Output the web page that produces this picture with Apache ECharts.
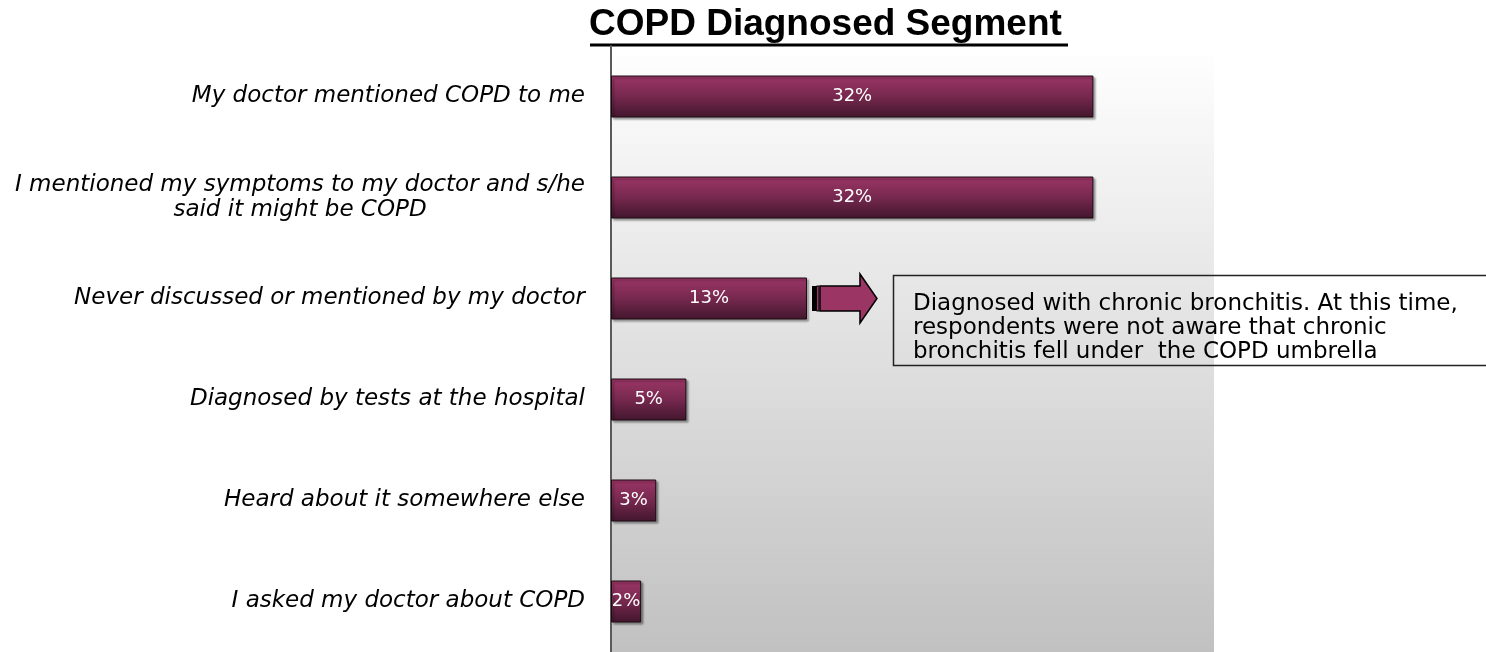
<!DOCTYPE html>
<html>
<head>
<meta charset="utf-8">
<title>COPD Diagnosed Segment</title>
<script src="https://cdn.jsdelivr.net/npm/echarts@6/dist/echarts.min.js"></script>
<style>
  html, body { margin: 0; padding: 0; background: #fff; }
  #chart { width: 1486px; height: 652px; }
</style>
</head>
<body>
<div id="chart"></div>
<script>
// data
const categories = [
  'My doctor mentioned COPD to me',
  'I mentioned my symptoms to my doctor and s/he\nsaid it might be COPD',
  'Never discussed or mentioned by my doctor',
  'Diagnosed by tests at the hospital',
  'Heard about it somewhere else',
  'I asked my doctor about COPD'
];
const shares = [32, 32, 13, 5, 3, 2];
const noteText = 'Diagnosed with chronic bronchitis. At this time,\nrespondents were not aware that chronic\nbronchitis fell under  the COPD umbrella';
const noteIndex = 2; // bar the arrow points from

const chart = echarts.init(document.getElementById('chart'));

const barColor = {
  type: 'linear', x: 0, y: 0, x2: 0, y2: 1,
  colorStops: [
    { offset: 0, color: '#9c3667' },
    { offset: 0.5, color: '#76284e' },
    { offset: 1, color: '#42162d' }
  ]
};

const option = {
  animation: false,
  title: {
    text: 'COPD Diagnosed Segment',
    left: 589,
    top: 6,
    padding: 0,
    textStyle: {
      fontFamily: 'Liberation Sans',
      fontWeight: 'bold',
      fontSize: 37,
      color: '#000'
    }
  },
  grid: {
    left: 611,
    right: 272,
    top: 46,
    height: 611,
    show: true,
    borderWidth: 0,
    backgroundColor: {
      type: 'linear', x: 0, y: 0, x2: 0, y2: 1,
      colorStops: [
        { offset: 0, color: '#ffffff' },
        { offset: 1, color: '#c1c1c1' }
      ]
    }
  },
  xAxis: {
    type: 'value',
    min: 0,
    max: 40,
    show: false
  },
  yAxis: {
    type: 'category',
    inverse: true,
    data: categories,
    axisLine: { show: true, lineStyle: { color: '#5a5a5a', width: 2 } },
    axisTick: { show: false },
    splitLine: { show: false },
    axisLabel: {
      margin: 26,
      formatter: v => v.split('\n').map(l => '{c|' + l + '}').join('\n'),
      rich: {
        c: {
          align: 'center',
          fontFamily: 'DejaVu Sans',
          fontStyle: 'italic',
          fontSize: 23,
          lineHeight: 25,
          color: '#000'
        }
      }
    }
  },
  series: [{
    type: 'bar',
    data: shares,
    barWidth: 42,
    itemStyle: {
      color: barColor,
      borderColor: '#1c0a13',
      borderWidth: 1,
      shadowColor: 'rgba(0,0,0,0.35)',
      shadowBlur: 2,
      shadowOffsetX: 2,
      shadowOffsetY: 2
    },
    label: {
      show: true,
      position: 'inside',
      formatter: '{c}%',
      fontFamily: 'DejaVu Sans',
      fontSize: 18,
      color: '#fff'
    }
  }]
};

chart.setOption(option);

// arrow + note box, anchored to the end of the 13% bar
const p = chart.convertToPixel({ gridIndex: 0 }, [shares[noteIndex], noteIndex]);
const ax = p[0], ay = p[1];
chart.setOption({
  graphic: [
    // title underline
    { type: 'rect', shape: { x: 590, y: 43.5, width: 478, height: 3 }, style: { fill: '#000' } },
    // striped tail
    { type: 'rect', shape: { x: ax + 5, y: ay - 12.5, width: 4.5, height: 25 }, style: { fill: '#000' } },
    { type: 'rect', shape: { x: ax + 9.5, y: ay - 12.5, width: 2.5, height: 25 }, style: { fill: '#9a3564', stroke: '#000', lineWidth: 1 } },
    {
      type: 'polygon',
      shape: {
        points: [
          [ax + 13, ay - 12.5], [ax + 53, ay - 12.5], [ax + 53, ay - 24.5],
          [ax + 70, ay], [ax + 53, ay + 24.5], [ax + 53, ay + 12.5], [ax + 13, ay + 12.5]
        ]
      },
      style: { fill: '#9a3564', stroke: '#000', lineWidth: 1.5 }
    },
    // note box
    {
      type: 'rect',
      shape: { x: 893.5, y: 275.5, width: 620, height: 90 },
      style: { fill: 'rgba(0,0,0,0)', stroke: '#222', lineWidth: 1.5 }
    },
    {
      type: 'text',
      x: 913,
      y: 292,
      style: {
        text: noteText,
        fontFamily: 'DejaVu Sans',
        fontSize: 23,
        lineHeight: 24,
        fill: '#000',
        verticalAlign: 'top'
      }
    }
  ]
});
</script>
</body>
</html>
